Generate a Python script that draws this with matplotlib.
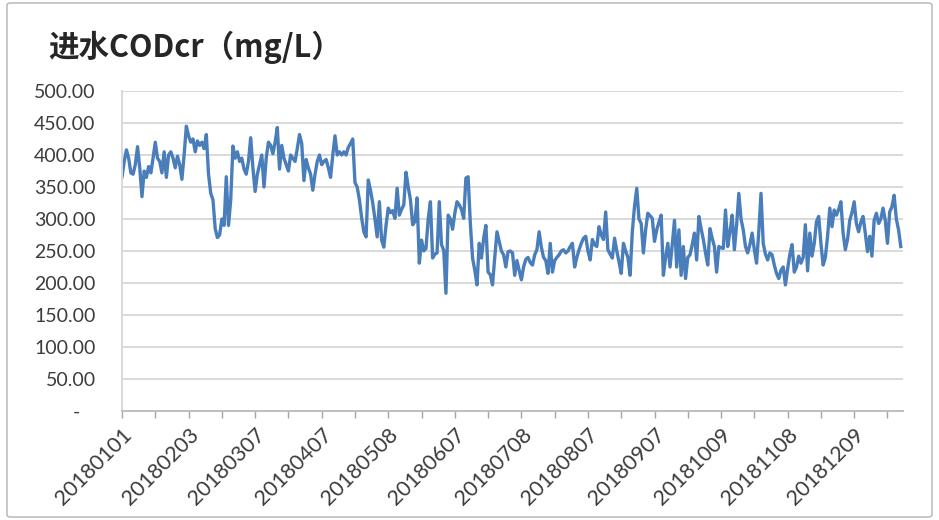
import matplotlib
matplotlib.use("Agg")
import matplotlib.pyplot as plt
from matplotlib.patches import FancyBboxPatch
from matplotlib.transforms import ScaledTranslation
from matplotlib.ticker import MultipleLocator

title = "进水CODcr（mg/L）"
tick_labels = ["20180101", "20180203", "20180307", "20180407", "20180508", "20180607",
               "20180708", "20180807", "20180907", "20181009", "20181108", "20181209"]
tick_step = 30
y_ticks = [0, 50, 100, 150, 200, 250, 300, 350, 400, 450, 500]

values = [
    366, 390, 408, 395, 372, 370, 385, 413, 380, 335, 375, 365, 382, 372, 395, 420, 395, 390, 372, 405,
    365, 400, 405, 395, 380, 398, 385, 362, 400, 445, 430, 420, 425, 405, 422, 415, 420, 410, 432, 370,
    340, 330, 285, 271, 275, 300, 290, 366, 290, 330, 414, 395, 405, 390, 395, 378, 370, 390, 427, 380,
    343, 370, 385, 400, 350, 395, 420, 415, 402, 420, 443, 378, 415, 395, 385, 375, 400, 395, 390, 410,
    432, 418, 360, 393, 380, 370, 345, 370, 390, 400, 385, 390, 393, 380, 365, 400, 430, 400, 405, 400,
    405, 400, 412, 418, 425, 357, 350, 330, 302, 280, 272, 361, 345, 325, 300, 272, 327, 267, 256, 290,
    317, 310, 313, 301, 348, 306, 315, 322, 373, 350, 330, 291, 296, 333, 231, 267, 250, 254, 300, 327,
    239, 245, 247, 327, 260, 251, 184, 306, 300, 284, 309, 327, 322, 315, 301, 364, 366, 293, 239, 220,
    197, 262, 239, 270, 290, 217, 213, 197, 240, 280, 265, 250, 244, 225, 249, 250, 247, 212, 235, 220,
    205, 225, 237, 240, 232, 228, 244, 252, 280, 256, 240, 235, 215, 262, 217, 235, 240, 244, 250, 252,
    247, 250, 257, 262, 225, 240, 252, 262, 270, 273, 250, 236, 268, 260, 257, 288, 275, 268, 311, 252,
    245, 239, 270, 250, 233, 215, 262, 250, 240, 212, 280, 320, 348, 300, 293, 247, 283, 309, 305, 301,
    265, 283, 295, 306, 212, 240, 262, 225, 260, 298, 225, 283, 212, 257, 207, 240, 244, 260, 278, 236,
    304, 285, 268, 247, 228, 285, 270, 257, 217, 257, 255, 254, 314, 257, 280, 306, 252, 290, 340, 300,
    283, 257, 247, 260, 278, 252, 231, 280, 340, 262, 245, 236, 247, 244, 228, 215, 207, 220, 225, 197,
    222, 245, 260, 217, 225, 242, 231, 240, 291, 219, 278, 242, 262, 296, 304, 262, 228, 240, 273, 317,
    288, 314, 306, 315, 327, 278, 252, 268, 298, 310, 327, 293, 280, 295, 304, 278, 249, 273, 242, 298,
    309, 293, 300, 317, 298, 262, 311, 319, 337, 300, 283, 257,
]

W, H = 939, 520
fig = plt.figure(figsize=(W / 100, H / 100), dpi=100)
fig.patch.set_facecolor("white")

# chart area border
border = FancyBboxPatch((7 / W, 3 / H), (W - 14) / W, (H - 6) / H,
                        boxstyle="round,pad=0,rounding_size=0.004",
                        transform=fig.transFigure, fill=False,
                        edgecolor="#bfbfbf", linewidth=1.2)
fig.patches.append(border)

left, right, top, bottom = 122, 903, 91, 411
ax = fig.add_axes([left / W, 1 - bottom / H, (right - left) / W, (bottom - top) / H])

x = list(range(len(values)))
ax.plot(x, values, color="#4a7ebb", linewidth=2.4, solid_joinstyle="round")

ax.set_xlim(0, 352)
ax.set_ylim(0, 500)

txt_color = "#3c3c3c"
ax.set_yticks(y_ticks)
ylabels = ["-" if v == 0 else f"{v:.2f}" for v in y_ticks]
ax.set_yticklabels(ylabels, fontsize=14, color=txt_color, family=["Lato", "DejaVu Sans"])
ax.tick_params(axis="y", length=0, pad=19)
for lbl in ax.get_yticklabels():
    if lbl.get_text() == "-":
        lbl.set_transform(lbl.get_transform() + ScaledTranslation(-0.15, 0, fig.dpi_scale_trans))

ax.set_xticks([i * tick_step for i in range(len(tick_labels))])
ax.set_xticklabels(tick_labels, rotation=45, ha="right", va="top", rotation_mode="anchor",
                   fontsize=15.5, color=txt_color, family=["Lato", "DejaVu Sans"])
for lbl in ax.get_xticklabels():
    lbl.set_transform(lbl.get_transform() + ScaledTranslation(0.06, 0, fig.dpi_scale_trans))
ax.xaxis.set_minor_locator(MultipleLocator(tick_step / 2))
ax.tick_params(axis="x", which="major", direction="out", length=5, width=1, color="#a6a6a6", pad=5)
ax.tick_params(axis="x", which="minor", direction="out", length=5, width=1, color="#a6a6a6")

ax.grid(axis="y", color="#d9d9d9", linewidth=1.4)
ax.set_axisbelow(True)
for s in ["top", "right"]:
    ax.spines[s].set_visible(False)
ax.spines["left"].set_color("#d9d9d9")
ax.spines["left"].set_linewidth(1.4)
ax.spines["bottom"].set_color("#bfbfbf")
ax.spines["bottom"].set_linewidth(1.4)

fig.text(48 / W, 1 - 47 / H, title, fontsize=22, fontweight="bold", color="#262626",
         family=["Noto Sans CJK SC", "DejaVu Sans"], ha="left", va="center")

fig.savefig("out.png", dpi=100)
